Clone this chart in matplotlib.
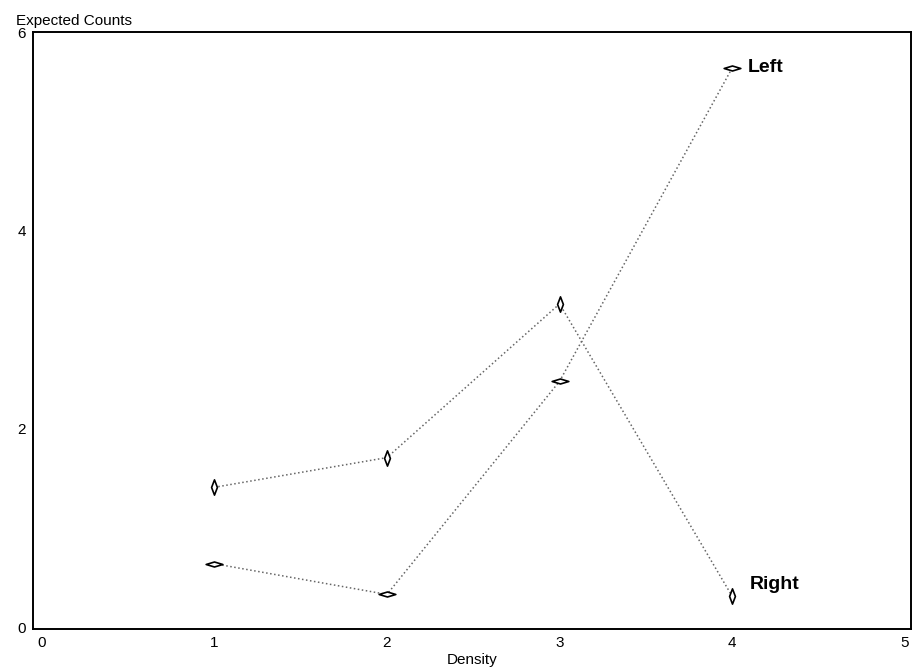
import matplotlib.pyplot as plt
from matplotlib.path import Path

plt.rcParams['font.family'] = ['Liberation Sans', 'DejaVu Sans']

density = [1, 2, 3, 4]
left_counts = [0.64, 0.33, 2.48, 5.64]
right_counts = [1.41, 1.71, 3.26, 0.31]
x_ticks = [0, 1, 2, 3, 4, 5]
y_ticks = [0, 2, 4, 6]

# flat diamond for Left, tall diamond for Right
flat_diamond = Path([(-1, 0), (0, 0.3), (1, 0), (0, -0.3), (-1, 0)],
                    [Path.MOVETO, Path.LINETO, Path.LINETO, Path.LINETO, Path.CLOSEPOLY])
tall_diamond = Path([(0, -1), (0.38, 0), (0, 1), (-0.38, 0), (0, -1)],
                    [Path.MOVETO, Path.LINETO, Path.LINETO, Path.LINETO, Path.CLOSEPOLY])

fig = plt.figure(figsize=(9.16, 6.70), dpi=100)
ax = fig.add_axes([0.036, 0.061, 0.9585, 0.891])

ax.plot(density, left_counts, linestyle=':', color='#666666', linewidth=1.1,
        marker=flat_diamond, markersize=12, markerfacecolor='white',
        markeredgecolor='black', markeredgewidth=1.2)
ax.plot(density, right_counts, linestyle=':', color='#666666', linewidth=1.1,
        marker=tall_diamond, markersize=11, markerfacecolor='white',
        markeredgecolor='black', markeredgewidth=1.2)

ax.text(density[-1] + 0.09, left_counts[-1], 'Left', fontsize=14, fontweight='bold',
        va='center', ha='left')
ax.text(density[-1] + 0.1, right_counts[-1] + 0.12, 'Right', fontsize=14, fontweight='bold',
        va='center', ha='left')

ax.set_xlim(-0.05, 5.035)
ax.set_ylim(-0.02, 6.0)
ax.set_xticks(x_ticks)
ax.set_yticks(y_ticks)
ax.tick_params(length=0, labelsize=11, pad=5)
for s in ax.spines.values():
    s.set_linewidth(1.4)

ax.set_xlabel('Density', fontsize=11, labelpad=2)
fig.text(0.018, 0.968, 'Expected Counts', fontsize=11, ha='left', va='center')

fig.savefig('out.png', dpi=100)
